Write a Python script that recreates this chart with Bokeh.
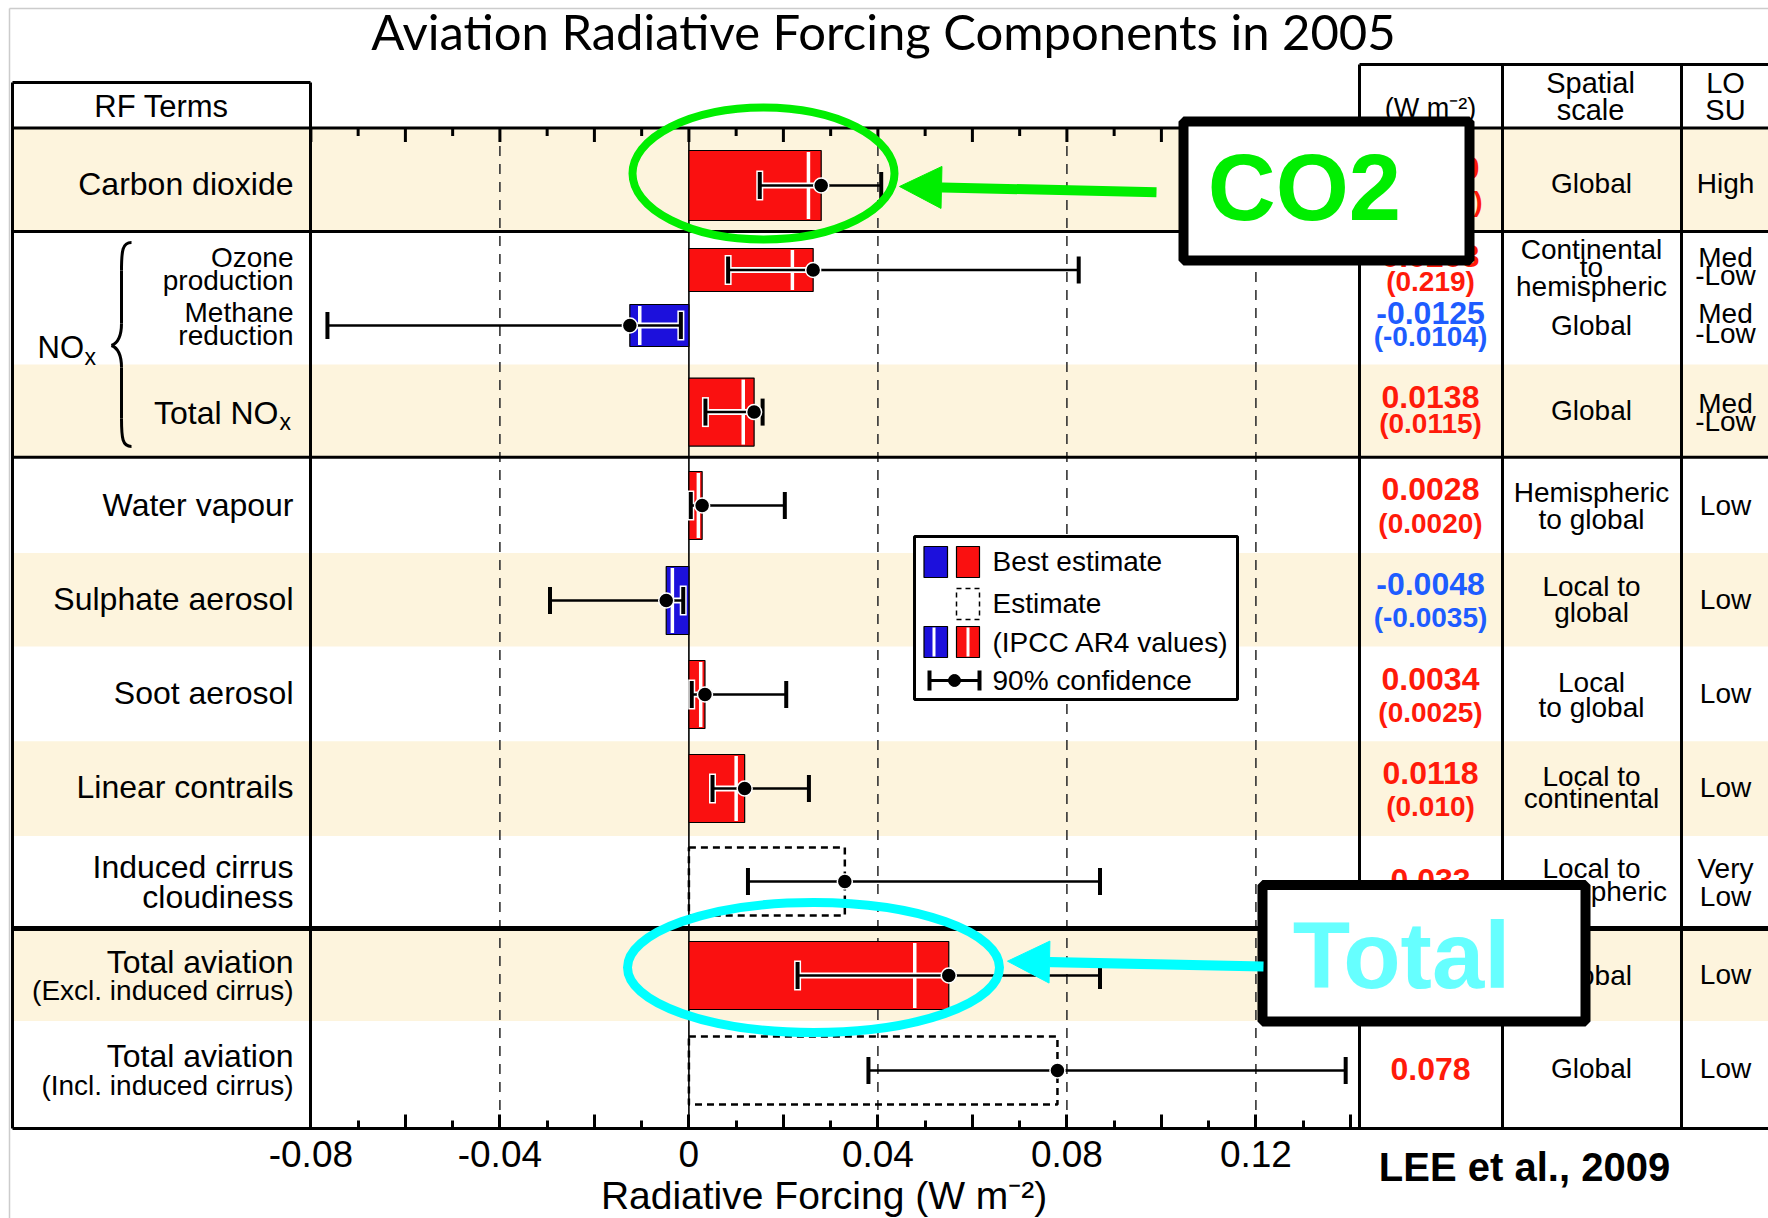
import math
from bokeh.plotting import figure
from bokeh.models import Range1d, LinearAxis, FixedTicker, Arrow, NormalHead
from bokeh.core.properties import value
from bokeh.embed import file_html
from bokeh.resources import INLINE

# ---------------- data ----------------
terms = ["Carbon dioxide", "Ozone production", "Methane reduction", "Total NOx",
         "Water vapour", "Sulphate aerosol", "Soot aerosol", "Linear contrails",
         "Induced cirrus cloudiness", "Total aviation (Excl. induced cirrus)",
         "Total aviation (Incl. induced cirrus)"]
best = [0.0280, 0.0263, -0.0125, 0.0138, 0.0028, -0.0048, 0.0034, 0.0118, 0.033, 0.055, 0.078]
ar4 = [0.0253, 0.0219, -0.0104, 0.0115, 0.0020, -0.0035, 0.0025, 0.010, None, 0.0478, None]
ci_low = [0.0150, 0.0083, -0.0765, 0.0035, 0.0004, -0.0294, 0.0006, 0.0050, 0.0125, 0.023, 0.038]
ci_high = [0.0407, 0.0825, -0.0017, 0.0156, 0.0203, -0.0012, 0.0206, 0.0254, 0.087, 0.087, 0.139]
estimate_only = [False, False, False, False, False, False, False, False, True, False, True]
value_text = ["0.0280", "0.0263", "-0.0125", "0.0138", "0.0028", "-0.0048", "0.0034",
              "0.0118", "0.033", "0.055", "0.078"]
ar4_text = ["(0.0253)", "(0.219)", "(-0.0104)", "(0.0115)", "(0.0020)", "(-0.0035)",
            "(0.0025)", "(0.010)", "", "(0.0478)", ""]
spatial_scale = [["Global"], ["Continental", "to", "hemispheric"], ["Global"], ["Global"],
                 ["Hemispheric", "to global"], ["Local to", "global"], ["Local", "to global"],
                 ["Local to", "continental"], ["Local to", "hemispheric"], ["Global"], ["Global"]]
losu = [["High"], ["Med", "-Low"], ["Med", "-Low"], ["Med", "-Low"], ["Low"], ["Low"], ["Low"],
        ["Low"], ["Very", "Low"], ["Low"], ["Low"]]
major_ticks = [-0.08, -0.06, -0.04, -0.02, 0.0, 0.02, 0.04, 0.06, 0.08, 0.10, 0.12, 0.14]
minor_ticks = [-0.07, -0.05, -0.03, -0.01, 0.01, 0.03, 0.05, 0.07, 0.09, 0.11, 0.13]
tick_labels = ["-0.08", "", "-0.04", "", "0", "", "0.04", "", "0.08", "", "0.12", ""]
grid_values = [-0.04, 0.04, 0.08, 0.12]

# ---------------- layout (pixels) ----------------
W = 1768
H = 1218
TABLE_BOTTOM = 1128
ZERO_PX = 688.4
PX_PER_UNIT = 4725.0


def X(px):
    return (px - ZERO_PX) / PX_PER_UNIT


RED = "#fa1010"
BLUE = "#1c10dc"
TXT_RED = "#ff1a0a"
TXT_BLUE = "#1e5cff"
BEIGE = "#fdf4dd"
GREEN = "#00ee00"
CYAN = "#00ffff"
FONT = "Liberation Sans"

row_y = [185, 269.5, 325, 411.6, 505, 600, 694, 788, 881, 975, 1070]
bar_h = [70, 43, 42, 68, 68, 68, 68, 68, 68, 68, 68]
PLOT_TOP = 127.4
PLOT_RIGHT_PX = 1359

p = figure(frame_width=W, frame_height=H,
           x_range=Range1d(X(0), X(W)), y_range=Range1d(H, 0),
           output_backend="svg", toolbar_location=None,
           x_axis_type=None, y_axis_type=None,
           min_border_left=0, min_border_right=0, min_border_top=0, min_border_bottom=0,
           outline_line_color=None, background_fill_color="white", border_fill_color="white")
p.title.visible = False


def txt(xs_px, ys, texts, size, align="center", color="black", bold=False, font=FONT, level="glyph"):
    p.text(x=[X(v) for v in xs_px], y=ys, text=texts, text_font=value(font),
           text_font_size=f"{size}px", text_align=align, text_baseline="middle",
           text_color=color, text_font_style="bold" if bold else "normal", level=level)


# beige bands
bands = [(127.4, 231), (364, 456.7), (552.5, 646.1), (740.8, 835.5), (928, 1020.4)]
p.quad(left=X(12), right=X(W), top=[b[0] for b in bands], bottom=[b[1] for b in bands],
       fill_color=BEIGE, line_color=None)

# light gray page frame
p.segment(x0=[X(9), X(9)], y0=[8, 8], x1=[X(W), X(9)], y1=[8, H],
          line_color="#cccccc", line_width=1.5)

# dashed grid lines + zero line
p.segment(x0=grid_values, y0=PLOT_TOP, x1=grid_values, y1=TABLE_BOTTOM,
          line_color="#333333", line_width=1.6, line_dash="10 8")
p.segment(x0=[0], y0=[PLOT_TOP], x1=[0], y1=[TABLE_BOTTOM], line_color="black", line_width=1.6)

# table lines
hl = [(12, W, 127.4, 3), (12, W, 231, 3), (12, W, 456.7, 3), (12, W, 928, 5),
      (12, W, TABLE_BOTTOM, 3), (12, 310, 82, 3), (1359, W, 64, 3)]
for x0, x1, y, w in hl:
    p.segment(x0=[X(x0)], y0=[y], x1=[X(x1)], y1=[y], line_color="black", line_width=w)
vl = [(12, 82), (310, 82), (1359, 64), (1502, 64), (1681, 64)]
for x, y0 in vl:
    p.segment(x0=[X(x)], y0=[y0], x1=[X(x)], y1=[TABLE_BOTTOM], line_color="black", line_width=3)

# title
txt([883], [30], ["Aviation Radiative Forcing Components in 2005"], 49, font="Lato")

# headers
txt([161], [106], ["RF Terms"], 31)
txt([1430], [107], ["(W m\u207b\u00b2)"], 27)
txt([1590, 1590], [82, 109], ["Spatial", "scale"], 29)
txt([1725, 1725], [82, 109], ["LO", "SU"], 29)

# left labels
left_main = [("Carbon dioxide", 183), ("Water vapour", 504), ("Sulphate aerosol", 598),
             ("Soot aerosol", 692), ("Linear contrails", 786), ("Induced cirrus", 866),
             ("cloudiness", 896), ("Total aviation", 961), ("Total aviation", 1055)]
txt([293] * len(left_main), [a[1] for a in left_main], [a[0] for a in left_main], 32, align="right")
left_sub = [("Ozone", 257), ("production", 280), ("Methane", 312), ("reduction", 335),
            ("(Excl. induced cirrus)", 990), ("(Incl. induced cirrus)", 1085)]
txt([293] * len(left_sub), [a[1] for a in left_sub], [a[0] for a in left_sub], 28, align="right")
txt([278], [412], ["Total NO"], 32, align="right")
txt([279], [421], ["x"], 23, align="left")
txt([37], [347], ["NO"], 31, align="left")
txt([84], [356], ["x"], 23, align="left")

# NOx brace
bx_l, bx_m, bx_r = 111, 121, 131
b_top, b_mid, b_bot = 242, 345, 446
p.bezier(x0=[X(bx_r), X(bx_m), X(bx_l), X(bx_m)],
         y0=[b_top, b_mid - 22, b_mid, b_bot - 28],
         x1=[X(bx_m), X(bx_l), X(bx_m), X(bx_r)],
         y1=[b_top + 28, b_mid, b_mid + 22, b_bot],
         cx0=[X(bx_m + 1), X(bx_m), X(bx_l + 5), X(bx_m)],
         cy0=[b_top, b_mid - 7, b_mid + 2, b_bot - 8],
         cx1=[X(bx_m), X(bx_l + 5), X(bx_m), X(bx_m + 1)],
         cy1=[b_top + 8, b_mid - 2, b_mid + 7, b_bot],
         line_color="black", line_width=3)
p.segment(x0=[X(bx_m), X(bx_m)], y0=[b_top + 28, b_mid + 22],
          x1=[X(bx_m), X(bx_m)], y1=[b_mid - 22, b_bot - 28], line_color="black", line_width=3)

# value column
val_y = [167, 255, 312, 396, 488, 583, 678, 772, 879, 962, 1068]
ar4_y = [201, 281, 336, 423, 523, 617, 711.5, 806, None, 990, None]
for i in range(len(terms)):
    col = TXT_RED if best[i] > 0 else TXT_BLUE
    txt([1430], [val_y[i]], [value_text[i]], 32, color=col, bold=True)
    if ar4_text[i]:
        txt([1430], [ar4_y[i]], [ar4_text[i]], 28, color=col, bold=True)

# spatial scale + LOSU
spatial_y = [[183], [249, 267, 286], [325], [410], [492, 519], [586, 612], [682, 707],
             [776, 798], [868, 891], [975], [1068]]
losu_y = [[183], [257, 275], [313, 333], [402.5, 420.6], [505], [599], [693], [787],
          [868, 896], [974], [1068]]
for i in range(len(terms)):
    txt([1591] * len(spatial_scale[i]), spatial_y[i], spatial_scale[i], 28)
    txt([1725] * len(losu[i]), losu_y[i], losu[i], 28)

# ---------------- bars ----------------
for i in range(len(terms)):
    y, h, v = row_y[i], bar_h[i], best[i]
    if estimate_only[i]:
        p.hbar(y=[y], left=[0], right=[v], height=[h], fill_color=None,
               line_color="black", line_width=2.5, line_dash="7 5")
    else:
        p.hbar(y=[y], left=[0], right=[v], height=[h], fill_color=RED if v > 0 else BLUE,
               line_color="black", line_width=1.2)
        if ar4[i] is not None:
            p.segment(x0=[ar4[i]], y0=[y - h / 2 + 1.5], x1=[ar4[i]], y1=[y + h / 2 - 1.5],
                      line_color="white", line_width=3.5)

# error bars
for i in range(len(terms)):
    y, v, lo, hi = row_y[i], best[i], ci_low[i], ci_high[i]
    if not estimate_only[i]:
        h0 = max(lo, min(0, v))
        h1 = min(hi, max(0, v))
        if h1 > h0:
            p.segment(x0=[h0], y0=[y], x1=[h1], y1=[y], line_color="white", line_width=6)
        for c in (lo, hi):
            if min(0, v) <= c <= max(0, v):
                p.segment(x0=[c], y0=[y - 15], x1=[c], y1=[y + 15], line_color="white", line_width=7)
    p.segment(x0=[lo], y0=[y], x1=[hi], y1=[y], line_color="black", line_width=2.5)
    p.segment(x0=[lo, hi], y0=[y - 13.5, y - 13.5], x1=[lo, hi], y1=[y + 13.5, y + 13.5],
              line_color="black", line_width=4)
p.scatter(x=best, y=row_y, size=15, fill_color="black", line_color="white", line_width=1.5)

# top ticks
p.segment(x0=major_ticks, y0=PLOT_TOP, x1=major_ticks, y1=PLOT_TOP + 14, line_color="black", line_width=3)
p.segment(x0=minor_ticks, y0=PLOT_TOP, x1=minor_ticks, y1=PLOT_TOP + 8, line_color="black", line_width=3)

# ---------------- legend ----------------
p.quad(left=[X(914)], right=[X(1237)], top=[536], bottom=[699], fill_color="white",
       line_color="black", line_width=3)
p.quad(left=[X(923.5), X(956), X(923.5), X(956)], right=[X(947), X(979), X(947), X(979)],
       top=[546, 546, 626, 626], bottom=[577, 577, 657, 657],
       fill_color=[BLUE, RED, BLUE, RED], line_color="black", line_width=1.2)
p.segment(x0=[X(933.5), X(967.5)], y0=[627, 627], x1=[X(933.5), X(967.5)], y1=[656, 656],
          line_color="white", line_width=3)
p.quad(left=[X(956)], right=[X(979)], top=[588], bottom=[619], fill_color=None,
       line_color="black", line_width=1.5, line_dash="5 4")
p.segment(x0=[X(929)], y0=[680], x1=[X(979)], y1=[680], line_color="black", line_width=3)
p.segment(x0=[X(929), X(979)], y0=[670, 670], x1=[X(929), X(979)], y1=[690, 690],
          line_color="black", line_width=4)
p.scatter(x=[X(954)], y=[680], size=12, fill_color="black", line_color="black")
txt([992] * 4, [561, 603, 642, 680],
    ["Best estimate", "Estimate", "(IPCC AR4 values)", "90% confidence"], 28, align="left")

# axis title and citation (below the table)
txt([829], [1195], ["Radiative Forcing  (W m\u207b\u00b2)"], 39)
txt([1524], [1166], ["LEE et al., 2009"], 40, bold=True)

# ---------------- highlight annotations ----------------
p.quad(left=[X(1183), X(1262)], right=[X(1469), X(1585)], top=[121, 884.5], bottom=[260, 1021],
       fill_color="white", line_color="black", line_width=10)
p.ellipse(x=[X(763)], y=[173], width=[262 / PX_PER_UNIT], height=[132],
          fill_color=None, line_color=GREEN, line_width=8)
p.ellipse(x=[X(813)], y=[967], width=[372 / PX_PER_UNIT], height=[130],
          fill_color=None, line_color=CYAN, line_width=9)

p.add_layout(Arrow(x_start=X(1156), y_start=191.7, x_end=X(899), y_end=186,
                   line_color=GREEN, line_width=10,
                   end=NormalHead(size=42, fill_color=GREEN, line_color=GREEN)))
p.add_layout(Arrow(x_start=X(1263), y_start=966, x_end=X(1007), y_end=960.7,
                   line_color=CYAN, line_width=10,
                   end=NormalHead(size=42, fill_color=CYAN, line_color=CYAN)))

# ---------------- axis ----------------
ax = LinearAxis(ticker=FixedTicker(ticks=major_ticks, minor_ticks=minor_ticks),
                bounds=(-0.08, X(PLOT_RIGHT_PX)), fixed_location=TABLE_BOTTOM)
ax.major_label_overrides = {t: l for t, l in zip(major_ticks, tick_labels)}
ax.axis_line_width = 3
ax.major_tick_in = 14
ax.major_tick_out = 0
ax.minor_tick_in = 8
ax.minor_tick_out = 0
ax.major_tick_line_width = 3
ax.minor_tick_line_width = 3
ax.major_label_standoff = 12
ax.major_label_text_font = FONT
ax.major_label_text_font_size = "37px"
ax.major_label_text_color = "black"
p.add_layout(ax, "below")

# large callout words, painted last
txt([1401], [955], ["Total"], 94, color="#66ffff", bold=True, level="overlay")
txt([1304], [187], ["CO2"], 94, color=GREEN, bold=True, level="overlay")

open("out.html", "w").write(file_html(p, INLINE))
